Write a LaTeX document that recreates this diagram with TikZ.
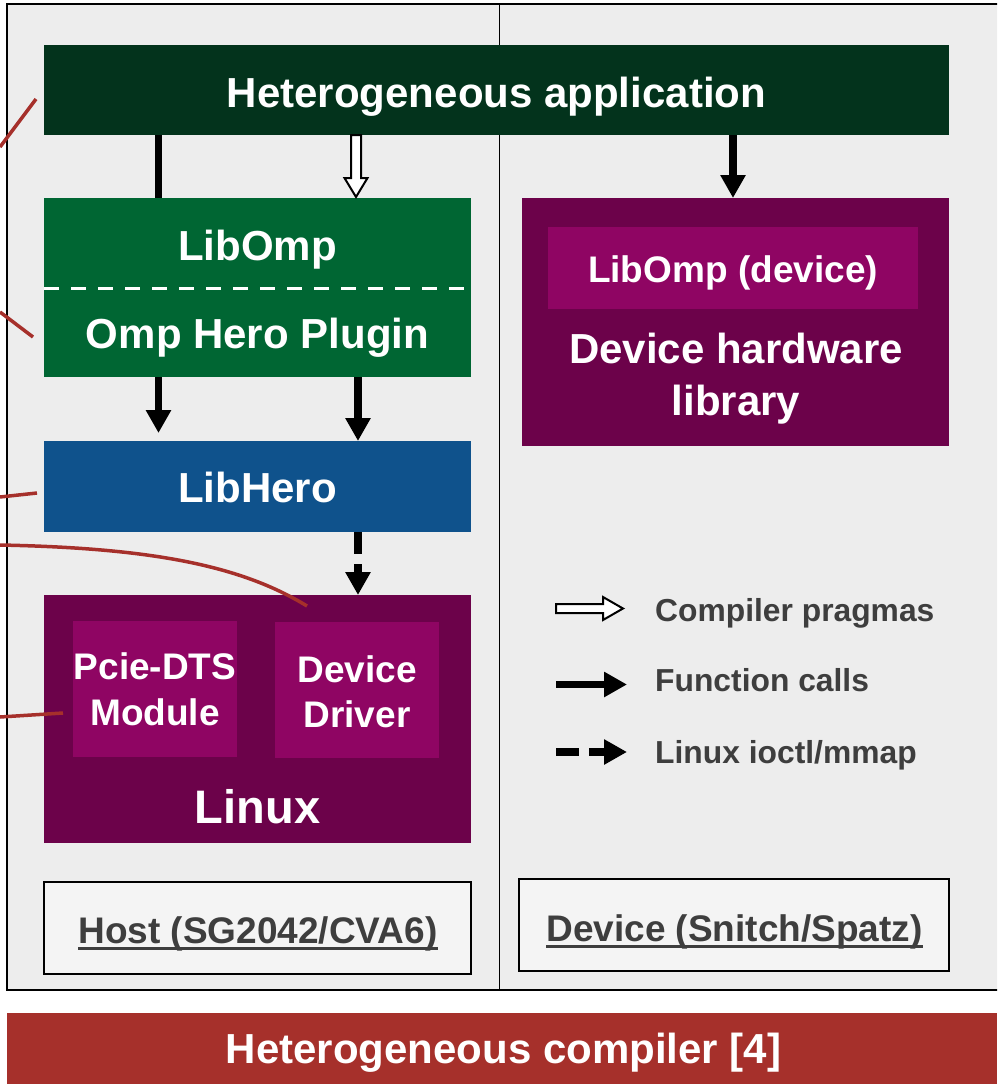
\documentclass[tikz,border=0pt]{standalone}
\usepackage{fontspec}
\setmainfont{Liberation Sans}
\usetikzlibrary{arrows.meta,calc}

\definecolor{appgreen}{RGB}{3,51,28}
\definecolor{ompgreen}{RGB}{0,102,51}
\definecolor{heroblue}{RGB}{15,82,140}
\definecolor{osplum}{RGB}{108,2,74}
\definecolor{modplum}{RGB}{143,5,99}
\definecolor{panelgray}{RGB}{237,237,237}
\definecolor{tagfill}{RGB}{244,244,244}
\definecolor{inkgray}{RGB}{62,62,62}
\definecolor{brick}{RGB}{166,48,43}

\begin{document}
\begin{tikzpicture}[x=1pt,y=-1pt,
  blk/.style={rectangle, inner sep=0pt, outer sep=0pt, draw=none},
  big/.style={text=white, inner sep=0pt, anchor=base, font=\bfseries\fontsize{42}{50}\selectfont},
  mid/.style={text=white, inner sep=0pt, anchor=base, font=\bfseries\fontsize{37}{44}\selectfont},
  huge/.style={text=white, inner sep=0pt, anchor=base, font=\bfseries\fontsize{47}{56}\selectfont},
  tagtext/.style={text=inkgray, inner sep=0pt, anchor=base, font=\bfseries\fontsize{37}{44}\selectfont},
  legtext/.style={text=inkgray, inner sep=0pt, anchor=base west, font=\bfseries\fontsize{31.8}{38}\selectfont},
  fcall/.style={line width=7.5pt, -{Triangle[width=24pt,length=23pt]}},
  iocall/.style={fcall, dash pattern=on 22pt off 10pt},
  hollow/.style={line width=2pt, draw=black, fill=white, line join=miter},
  feed/.style={draw=brick, line width=3.5pt},
]
\useasboundingbox (0,0) rectangle (997,1084);
\clip (0,0) rectangle (997,1084);

% panel frame with host / device halves
\draw[line width=2.2pt, fill=panelgray] (7,4) rectangle (1003,990);
\draw[line width=1.8pt] (499.5,4) -- (499.5,990);

% software stack boxes
\node[blk, fill=appgreen, minimum width=905pt, minimum height=90pt] (app) at (496.5,90) {};
\node[big] (appT) at (496.5,107) {Heterogeneous application};

\node[blk, fill=ompgreen, minimum width=427pt, minimum height=90pt] (libomp) at (257.5,243) {};
\node[blk, fill=ompgreen, minimum width=427pt, minimum height=89pt] (plugin) at (257.5,332.5) {};
\draw[white, line width=3pt, dash pattern=on 15pt off 12pt] (libomp.south west) -- (libomp.south east);
\node[big] (libompT) at (257.5,260) {LibOmp};
\node[big] (pluginT) at (257.5,348) {Omp Hero Plugin};

\node[blk, fill=heroblue, minimum width=427pt, minimum height=91pt] (libhero) at (257.5,486.5) {};
\node[big] (libheroT) at (257.5,502) {LibHero};

\node[blk, fill=osplum, minimum width=427pt, minimum height=248pt] (linux) at (257.5,719) {};
\node[blk, fill=modplum, minimum width=164pt, minimum height=136pt] (pcie) at (155,689) {};
\node[blk, fill=modplum, minimum width=164pt, minimum height=136pt] (ddrv) at (357,690) {};
\node[mid] (pcieA) at (155,679) {Pcie-DTS};
\node[mid] (pcieB) at (155,725) {Module};
\node[mid] (ddrvA) at (357,682) {Device};
\node[mid] (ddrvB) at (357,727) {Driver};
\node[huge] (linuxT) at (257.5,823) {Linux};

\node[blk, fill=osplum, minimum width=427pt, minimum height=248pt] (devlib) at (735.5,322) {};
\node[blk, fill=modplum, minimum width=370pt, minimum height=82pt] (devomp) at (733,268) {};
\node[mid] (devompT) at (733,282) {LibOmp (device)};
\node[big] (devlibA) at (736,363) {Device hardware};
\node[big] (devlibB) at (736,415) {library};

% host / device tags
\node[blk, draw=black, line width=2pt, fill=tagfill, minimum width=427pt, minimum height=92pt] (hostTag) at (257.5,928) {};
\node[tagtext] (hostT) at (258,943) {Host (SG2042/CVA6)};
\draw[inkgray, line width=3pt] ($(hostT.base west)+(0,5)$) -- ($(hostT.base east)+(0,5)$);
\node[blk, draw=black, line width=2pt, fill=tagfill, minimum width=430pt, minimum height=92pt] (devTag) at (734,925) {};
\node[tagtext] (devT) at (734.5,941) {Device (Snitch/Spatz)};
\draw[inkgray, line width=3pt] ($(devT.base west)+(0,5)$) -- ($(devT.base east)+(0,5)$);

% compiler bar
\node[blk, fill=brick, minimum width=990pt, minimum height=71pt] (bar) at (502,1048.5) {};
\node[big] (barT) at (503.5,1063) {Heterogeneous compiler [4]};

% call arrows
\coordinate (xa) at (158.5,0);
\coordinate (xb) at (356,0);
\coordinate (xc) at (733,0);
\coordinate (xd) at (358,0);
\draw[line width=7.5pt] (app.south -| xa) -- (libomp.north -| xa);
\draw[fcall] (app.south -| xc) -- (devlib.north -| xc);
\draw[fcall, shorten >=8pt] (plugin.south -| xa) -- (libhero.north -| xa);
\draw[fcall] (plugin.south -| xd) -- (libhero.north -| xd);
\draw[iocall] (libhero.south -| xd) -- (linux.north -| xd);

% pragma arrow (outlined)
\coordinate (pt) at (app.south -| xb);
\coordinate (pb) at (libomp.north -| xb);
\draw[hollow] ($(pt)+(-5,0)$) -- ($(pt)+(5,0)$) -- ($(pb)+(5,-20)$) -- ($(pb)+(11.5,-20)$)
  -- ($(pb)+(0,-1)$) -- ($(pb)+(-11.5,-20)$) -- ($(pb)+(-5,-20)$) -- cycle;

% legend
\coordinate (lgA) at (556,608.5);
\coordinate (lgB) at (623,608.5);
\draw[hollow] ($(lgA)+(0,-4.5)$) -- ($(lgB)+(-20,-4.5)$) -- ($(lgB)+(-20,-11.5)$) -- (lgB)
  -- ($(lgB)+(-20,11.5)$) -- ($(lgB)+(-20,4.5)$) -- ($(lgA)+(0,4.5)$) -- cycle;
\node[legtext] (lgAT) at (655,621) {Compiler pragmas};
\coordinate (lfA) at (556,684.5);
\coordinate (lfB) at (627,684.5);
\draw[fcall] (lfA) -- (lfB);
\node[legtext] (lfT) at (655,691) {Function calls};
\coordinate (liA) at (556,752);
\coordinate (liB) at (627,752);
\draw[fcall, dash pattern=on 23pt off 10pt] (liA) -- (liB);
\node[legtext] (liT) at (655,763) {Linux ioctl/mmap};

% links leaving to the left
\coordinate (f1) at (0,147);
\coordinate (f2) at (0,312);
\coordinate (f3) at (0,497);
\coordinate (f4) at (0,545);
\coordinate (f5) at (0,717);
\draw[feed] (f1) -- ($(app.west)+(-8,9)$);
\draw[feed] (f2) -- ($(plugin.west)+(-11,4.5)$);
\draw[feed] (f3) -- ($(libhero.west)+(-7,6.5)$);
\draw[feed] (f4) .. controls (150,548) and (240,565) .. ($(linux.north)+(49.5,11)$);
\draw[feed] (f5) -- ($(pcie.west)+(-10,24)$);
\end{tikzpicture}
\end{document}
